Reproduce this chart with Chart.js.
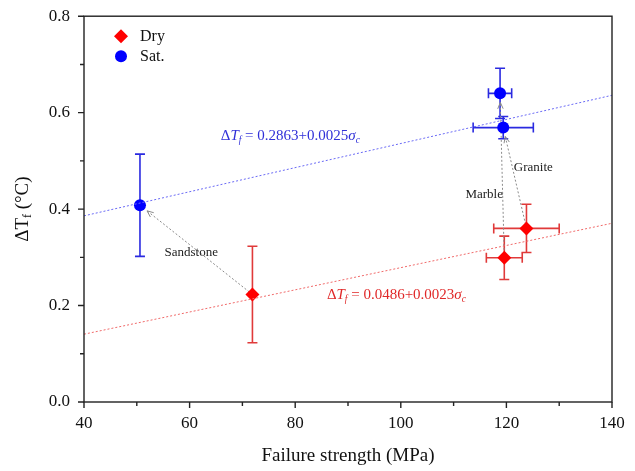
<!DOCTYPE html>
<html>
<head>
<meta charset="utf-8">
<script src="https://cdn.jsdelivr.net/npm/chart.js@4.4.1/dist/chart.umd.min.js"></script>
<style>
  html, body { margin: 0; padding: 0; background: #fff; }
  #wrap { width: 635px; height: 471px; }
</style>
</head>
<body>
<div id="wrap"><canvas id="chart"></canvas></div>
<script>
// Datos
const rocks = ['Sandstone', 'Marble', 'Granite'];
const dryStrength = [71.9, 119.6, 123.8];
const dryDeltaT = [0.223, 0.299, 0.360];
const dryStrengthErr = [0, 3.4, 6.2];
const dryDeltaTErr = [0.100, 0.045, 0.050];
const satStrength = [50.6, 118.8, 119.4];
const satDeltaT = [0.408, 0.640, 0.569];
const satStrengthErr = [0, 2.2, 5.7];
const satDeltaTErr = [0.106, 0.052, 0.023];

// Rectas de ajuste (extremos en x = 40 y x = 140)
const fitX = [40, 140];
const satFitY = [0.386, 0.636];
const dryFitY = [0.1406, 0.3706];

// Ejes
const xTicks = [40, 60, 80, 100, 120, 140];
const yTicks = [0.0, 0.2, 0.4, 0.6, 0.8];

const SERIF = '"Liberation Serif", "DejaVu Serif", serif';
const RED = '#ff0000';
const BLUE = '#0000ff';

const toPoints = (xs, ys) => xs.map((x, i) => ({ x: x, y: ys[i] }));

// Barras de error + flechas (debajo de los puntos)
const errorBarsPlugin = {
    id: 'errorBars',
    beforeDatasetsDraw(chart) {
        const { ctx, scales: { x, y } } = chart;
        const cap = 5;

        function drawBars(xs, ys, ex, ey, color) {
            ctx.save();
            ctx.strokeStyle = color;
            ctx.lineWidth = 1.6;
            xs.forEach((v, i) => {
                const px = x.getPixelForValue(v);
                const py = y.getPixelForValue(ys[i]);
                ctx.beginPath();
                if (ey[i] > 0) {
                    const t = y.getPixelForValue(ys[i] + ey[i]);
                    const b = y.getPixelForValue(ys[i] - ey[i]);
                    ctx.moveTo(px, t); ctx.lineTo(px, b);
                    ctx.moveTo(px - cap, t); ctx.lineTo(px + cap, t);
                    ctx.moveTo(px - cap, b); ctx.lineTo(px + cap, b);
                }
                if (ex[i] > 0) {
                    const l = x.getPixelForValue(v - ex[i]);
                    const r = x.getPixelForValue(v + ex[i]);
                    ctx.moveTo(l, py); ctx.lineTo(r, py);
                    ctx.moveTo(l, py - cap); ctx.lineTo(l, py + cap);
                    ctx.moveTo(r, py - cap); ctx.lineTo(r, py + cap);
                }
                ctx.stroke();
            });
            ctx.restore();
        }

        drawBars(dryStrength, dryDeltaT, dryStrengthErr, dryDeltaTErr, '#e03a3a');
        drawBars(satStrength, satDeltaT, satStrengthErr, satDeltaTErr, '#2a2ae0');

        // Flechas seco -> saturado
        ctx.save();
        ctx.strokeStyle = '#8a8a8a';
        ctx.lineWidth = 1;
        rocks.forEach((r, i) => {
            const x0 = x.getPixelForValue(dryStrength[i]);
            const y0 = y.getPixelForValue(dryDeltaT[i]);
            const x1r = x.getPixelForValue(satStrength[i]);
            const y1r = y.getPixelForValue(satDeltaT[i]);
            const ang = Math.atan2(y1r - y0, x1r - x0);
            const x1 = x1r - Math.cos(ang) * 9;
            const y1 = y1r - Math.sin(ang) * 9;
            ctx.setLineDash([2, 2]);
            ctx.beginPath();
            ctx.moveTo(x0, y0); ctx.lineTo(x1, y1);
            ctx.stroke();
            ctx.setLineDash([]);
            ctx.beginPath();
            ctx.moveTo(x1 - Math.cos(ang - 0.4) * 7, y1 - Math.sin(ang - 0.4) * 7);
            ctx.lineTo(x1, y1);
            ctx.lineTo(x1 - Math.cos(ang + 0.4) * 7, y1 - Math.sin(ang + 0.4) * 7);
            ctx.stroke();
        });
        ctx.restore();
    }
};

// Texto con cursiva / subíndice
function drawRich(ctx, parts, x0, y0, size) {
    let cx = x0;
    parts.forEach(p => {
        const fs = p.sub ? size * 0.62 : size;
        ctx.font = (p.italic ? 'italic ' : '') + fs + 'px ' + SERIF;
        ctx.fillText(p.t, cx, y0 + (p.sub ? size * 0.28 : 0));
        cx += ctx.measureText(p.t).width;
    });
    return cx - x0;
}

function measureRich(ctx, parts, size) {
    let w = 0;
    parts.forEach(p => {
        const fs = p.sub ? size * 0.62 : size;
        ctx.font = (p.italic ? 'italic ' : '') + fs + 'px ' + SERIF;
        w += ctx.measureText(p.t).width;
    });
    return w;
}

const satEq = [
    { t: 'Δ' }, { t: 'T', italic: true }, { t: 'f', italic: true, sub: true },
    { t: ' = 0.2863+0.0025' }, { t: 'σ', italic: true }, { t: 'c', italic: true, sub: true }
];
const dryEq = [
    { t: 'Δ' }, { t: 'T', italic: true }, { t: 'f', italic: true, sub: true },
    { t: ' = 0.0486+0.0023' }, { t: 'σ', italic: true }, { t: 'c', italic: true, sub: true }
];

const decorPlugin = {
    id: 'decor',
    afterDraw(chart) {
        const { ctx, chartArea: a, scales: { x, y } } = chart;
        ctx.save();

        // Marco
        ctx.strokeStyle = '#222';
        ctx.lineWidth = 1.4;
        ctx.strokeRect(a.left, a.top, a.right - a.left, a.bottom - a.top);

        // Marcas de los ejes (mayores y menores, hacia afuera)
        ctx.beginPath();
        for (let i = 0; i < xTicks.length; i++) {
            const px = x.getPixelForValue(xTicks[i]);
            ctx.moveTo(px, a.bottom); ctx.lineTo(px, a.bottom + 6);
            if (i < xTicks.length - 1) {
                const pm = x.getPixelForValue((xTicks[i] + xTicks[i + 1]) / 2);
                ctx.moveTo(pm, a.bottom); ctx.lineTo(pm, a.bottom + 4);
            }
        }
        for (let i = 0; i < yTicks.length; i++) {
            const py = y.getPixelForValue(yTicks[i]);
            ctx.moveTo(a.left, py); ctx.lineTo(a.left - 6, py);
            if (i < yTicks.length - 1) {
                const pm = y.getPixelForValue((yTicks[i] + yTicks[i + 1]) / 2);
                ctx.moveTo(a.left, pm); ctx.lineTo(a.left - 4, pm);
            }
        }
        ctx.stroke();

        // Título eje Y: ΔTf (°C)
        const yTitle = [{ t: 'ΔT' }, { t: 'f', sub: true }, { t: ' (°C)' }];
        ctx.save();
        ctx.fillStyle = '#111';
        ctx.textBaseline = 'middle';
        ctx.translate(23, (a.top + a.bottom) / 2);
        ctx.rotate(-Math.PI / 2);
        const tw = measureRich(ctx, yTitle, 19);
        drawRich(ctx, yTitle, -tw / 2, 0, 19);
        ctx.restore();

        // Ecuaciones
        ctx.textBaseline = 'middle';
        ctx.fillStyle = '#3030d8';
        drawRich(ctx, satEq, x.getPixelForValue(65.9), y.getPixelForValue(0.551), 15);
        ctx.fillStyle = '#e02828';
        drawRich(ctx, dryEq, x.getPixelForValue(86.0), y.getPixelForValue(0.222), 15);

        // Etiquetas de las rocas
        const labelPos = [[60.3, 0.309], [115.8, 0.430], [125.1, 0.486]];
        ctx.fillStyle = '#222';
        ctx.font = '13px ' + SERIF;
        ctx.textAlign = 'center';
        rocks.forEach((r, i) => {
            ctx.fillText(r, x.getPixelForValue(labelPos[i][0]), y.getPixelForValue(labelPos[i][1]));
        });

        // Leyenda
        ctx.textAlign = 'left';
        ctx.font = '16px ' + SERIF;
        const items = [chart.data.datasets[2], chart.data.datasets[3]];
        items.forEach((ds, i) => {
            const cx = a.left + 37;
            const cy = a.top + 20 + i * 20;
            ctx.fillStyle = ds.backgroundColor;
            ctx.beginPath();
            if (ds.pointStyle === 'rectRot') {
                ctx.moveTo(cx, cy - 7); ctx.lineTo(cx + 7, cy); ctx.lineTo(cx, cy + 7); ctx.lineTo(cx - 7, cy);
                ctx.closePath();
            } else {
                ctx.arc(cx, cy, 6, 0, Math.PI * 2);
            }
            ctx.fill();
            ctx.fillStyle = '#111';
            ctx.fillText(ds.label, cx + 19, cy + 1);
        });

        ctx.restore();
    }
};

new Chart(document.getElementById('chart'), {
    type: 'scatter',
    data: {
        datasets: [
            {
                label: 'Sat. fit',
                type: 'line',
                data: toPoints(fitX, satFitY),
                borderColor: '#6a6af5',
                borderWidth: 1,
                borderDash: [2, 2],
                pointRadius: 0,
                fill: false
            },
            {
                label: 'Dry fit',
                type: 'line',
                data: toPoints(fitX, dryFitY),
                borderColor: '#f06a6a',
                borderWidth: 1,
                borderDash: [2, 2],
                pointRadius: 0,
                fill: false
            },
            {
                label: 'Dry',
                data: toPoints(dryStrength, dryDeltaT),
                pointStyle: 'rectRot',
                pointRadius: 7,
                backgroundColor: RED,
                borderColor: RED,
                borderWidth: 0
            },
            {
                label: 'Sat.',
                data: toPoints(satStrength, satDeltaT),
                pointStyle: 'circle',
                pointRadius: 6,
                backgroundColor: BLUE,
                borderColor: BLUE,
                borderWidth: 0
            }
        ]
    },
    options: {
        responsive: true,
        maintainAspectRatio: false,
        animation: false,
        layout: { padding: { top: 16, right: 23, left: 0, bottom: 0 } },
        plugins: {
            legend: { display: false },
            tooltip: { enabled: false }
        },
        scales: {
            x: {
                type: 'linear',
                min: 40,
                max: 140,
                afterBuildTicks: s => { s.ticks = xTicks.map(v => ({ value: v })); },
                afterFit: s => { s.height = 69; },
                grid: { display: false },
                border: { display: false },
                ticks: {
                    color: '#111',
                    font: { family: SERIF, size: 17 },
                    padding: 3,
                    maxRotation: 0,
                    callback: v => String(v)
                },
                title: {
                    display: true,
                    text: 'Failure strength (MPa)',
                    color: '#111',
                    font: { family: SERIF, size: 19 },
                    padding: { top: 2 }
                }
            },
            y: {
                type: 'linear',
                min: 0,
                max: 0.8,
                afterBuildTicks: s => { s.ticks = yTicks.map(v => ({ value: v })); },
                afterFit: s => { s.width = 84; },
                grid: { display: false },
                border: { display: false },
                ticks: {
                    color: '#111',
                    font: { family: SERIF, size: 17 },
                    padding: 6,
                    callback: v => v.toFixed(1)
                }
            }
        }
    },
    plugins: [errorBarsPlugin, decorPlugin]
});
</script>
</body>
</html>
